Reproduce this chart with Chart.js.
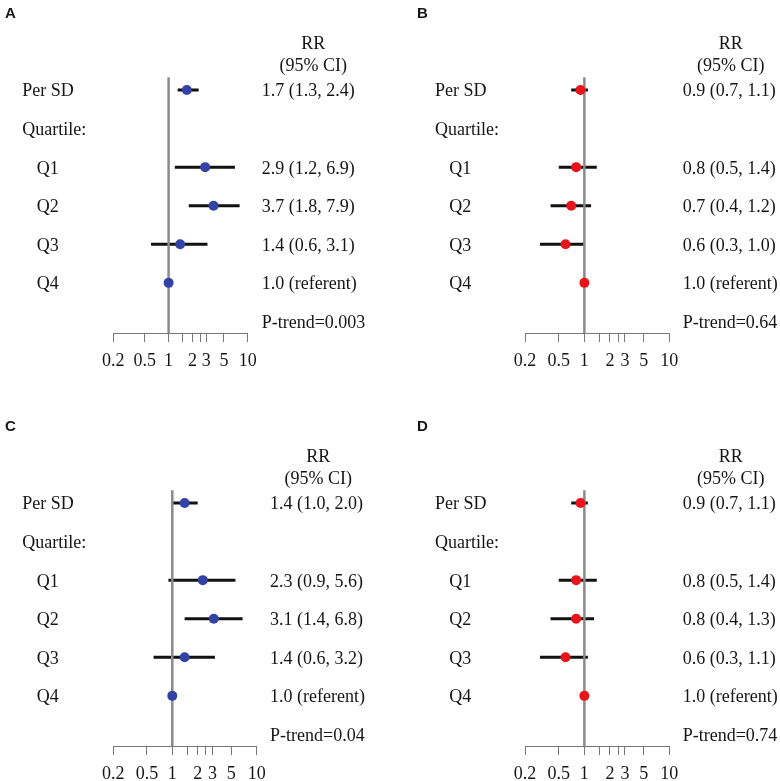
<!DOCTYPE html>
<html><head><meta charset="utf-8">
<script src="https://cdn.jsdelivr.net/npm/chart.js@4.4.1/dist/chart.umd.min.js"></script>
<style>
html,body{margin:0;padding:0;background:#fff;overflow:hidden;width:780px;height:781px;}
canvas{position:absolute;}
</style></head><body>
<canvas id="cA" width="390" height="390" style="left:0;top:0"></canvas>
<canvas id="cB" width="390" height="390" style="left:390px;top:0"></canvas>
<canvas id="cC" width="390" height="390" style="left:0;top:413px"></canvas>
<canvas id="cD" width="390" height="390" style="left:390px;top:413px"></canvas>
<script>
// ---------- DATA ----------
const rowLabels = ["Per SD", "Quartile:", "Q1", "Q2", "Q3", "Q4"];
const estimateRows = ["Per SD", "Q1", "Q2", "Q3", "Q4"];
const xTickValues = [0.2, 0.5, 1, 1.5, 2, 2.5, 3, 5, 10];
const xTickLabels = [0.2, 0.5, 1, 2, 3, 5, 10];

const rrA = [1.7, 2.9, 3.7, 1.4, 1.0];
const loA = [1.3, 1.2, 1.8, 0.6, null];
const hiA = [2.4, 6.9, 7.9, 3.1, null];
const pTrendA = "0.003";

const rrB = [0.9, 0.8, 0.7, 0.6, 1.0];
const loB = [0.7, 0.5, 0.4, 0.3, null];
const hiB = [1.1, 1.4, 1.2, 1.0, null];
const pTrendB = "0.64";

const rrC = [1.4, 2.3, 3.1, 1.4, 1.0];
const loC = [1.0, 0.9, 1.4, 0.6, null];
const hiC = [2.0, 5.6, 6.8, 3.2, null];
const pTrendC = "0.04";

const rrD = [0.9, 0.8, 0.8, 0.6, 1.0];
const loD = [0.7, 0.5, 0.4, 0.3, null];
const hiD = [1.1, 1.4, 1.3, 1.1, null];
const pTrendD = "0.74";

// row positions on the y scale
const rowOf = {"Per SD": 1, "Quartile:": 2, "Q1": 3, "Q2": 4, "Q3": 5, "Q4": 6};
const pTrendRow = 7;
const headerRows = [-0.225, 0.334];

// ---------- STYLE / LAYOUT ----------
const BLUE = '#3343a5', RED = '#e8141b';
const panels = [
  {id: 'cA', letter: 'A', rr: rrA, lo: loA, hi: hiA, p: pTrendA, color: BLUE,
   padL: 113.3, padR: 142.3, letterX: 5, labelX: 22.3, indentX: 36.7, valueX: 261.7, headerX: 313.3},
  {id: 'cB', letter: 'B', rr: rrB, lo: loB, hi: hiB, p: pTrendB, color: RED,
   padL: 135, padR: 110.7, letterX: 27, labelX: 45, indentX: 59.3, valueX: 292.7, headerX: 340.7},
  {id: 'cC', letter: 'C', rr: rrC, lo: loC, hi: hiC, p: pTrendC, color: BLUE,
   padL: 113.3, padR: 133.3, letterX: 5, labelX: 22.3, indentX: 36.7, valueX: 270, headerX: 318.3},
  {id: 'cD', letter: 'D', rr: rrD, lo: loD, hi: hiD, p: pTrendD, color: RED,
   padL: 135, padR: 110.7, letterX: 27, labelX: 45, indentX: 59.3, valueX: 292.7, headerX: 340.7}
];

const AXIS_Y = 333, XAXIS_H = 45, TOP = 70.7;
const TEXT_COLOR = '#151515';
const SERIF = '"Liberation Serif", "Times New Roman", serif';

const textPlugin = {
  id: 'forestText',
  afterDraw(chart, args, opts) {
    const ctx = chart.ctx, ys = chart.scales.y, P = opts.panel;
    const py = v => ys.getPixelForValue(v) + 6.5;
    ctx.save();
    ctx.fillStyle = TEXT_COLOR;
    ctx.textBaseline = 'alphabetic';
    ctx.textAlign = 'left';
    ctx.font = 'bold 15px "Liberation Sans", Arial, sans-serif';
    ctx.fillText(P.letter, P.letterX, 18);
    ctx.font = '18px ' + SERIF;
    rowLabels.forEach(lab => {
      const x = /^Q\d$/.test(lab) ? P.indentX : P.labelX;
      ctx.fillText(lab, x, py(rowOf[lab]));
    });
    estimateRows.forEach((lab, i) => {
      const t = P.lo[i] == null
        ? P.rr[i].toFixed(1) + ' (referent)'
        : P.rr[i].toFixed(1) + ' (' + P.lo[i].toFixed(1) + ', ' + P.hi[i].toFixed(1) + ')';
      ctx.fillText(t, P.valueX, py(rowOf[lab]));
    });
    ctx.fillText('P-trend=' + P.p, P.valueX, py(pTrendRow));
    ctx.textAlign = 'center';
    ctx.fillText('RR', P.headerX, py(headerRows[0]));
    ctx.fillText('(95% CI)', P.headerX, py(headerRows[1]));
    ctx.restore();
  }
};

panels.forEach(P => {
  const datasets = [];
  // points
  datasets.push({
    data: estimateRows.map((lab, i) => ({x: P.rr[i], y: rowOf[lab]})),
    pointRadius: 5, pointHoverRadius: 5, pointBackgroundColor: P.color,
    pointBorderWidth: 0, showLine: false, order: 0
  });
  // reference line at RR = 1
  datasets.push({
    data: [{x: 1, y: 0.67}, {x: 1, y: 7.3}],
    showLine: true, borderColor: '#8a8a8a', borderWidth: 2.5, pointRadius: 0, order: 1
  });
  // confidence interval bars
  estimateRows.forEach((lab, i) => {
    if (P.lo[i] == null) return;
    datasets.push({
      data: [{x: P.lo[i], y: rowOf[lab]}, {x: P.hi[i], y: rowOf[lab]}],
      showLine: true, borderColor: '#111', borderWidth: 3, pointRadius: 0, order: 2
    });
  });

  new Chart(document.getElementById(P.id), {
    type: 'scatter',
    data: {datasets},
    options: {
      responsive: false, animation: false, devicePixelRatio: 1,
      layout: {padding: {left: P.padL, right: P.padR, top: TOP, bottom: 390 - AXIS_Y - XAXIS_H}},
      plugins: {legend: {display: false}, tooltip: {enabled: false}, forestText: {panel: P}},
      scales: {
        x: {
          type: 'logarithmic', position: 'bottom', min: 0.2, max: 10,
          afterBuildTicks: s => { s.ticks = xTickValues.map(v => ({value: v})); },
          afterFit: s => { s.height = XAXIS_H; },
          grid: {display: true, drawOnChartArea: false, drawTicks: true, tickLength: 9, color: '#777', lineWidth: 1},
          border: {display: true, color: '#777', width: 1},
          ticks: {
            autoSkip: false, maxRotation: 0, minRotation: 0, padding: 8, color: TEXT_COLOR,
            font: {family: SERIF, size: 18},
            callback: v => xTickLabels.includes(v) ? String(v) : ''
          }
        },
        y: {type: 'linear', display: false, min: 0.5, max: 7.3, reverse: true}
      }
    },
    plugins: [textPlugin]
  });
});
</script>
</body></html>
